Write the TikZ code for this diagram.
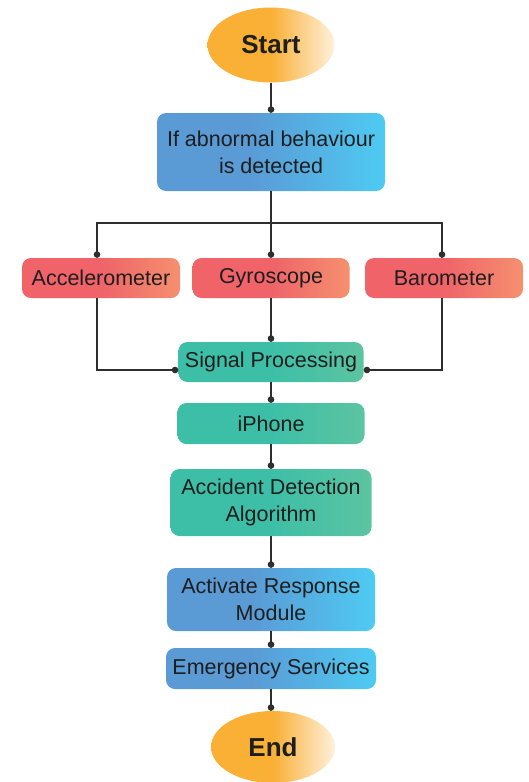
\documentclass[tikz,border=0pt]{standalone}
\usepackage{fontspec}
\setmainfont{Liberation Sans}
\usetikzlibrary{arrows.meta,shapes.geometric}
\definecolor{orA}{HTML}{F9B035}
\definecolor{orB}{HTML}{FFF1DC}
\definecolor{blA}{HTML}{5A9AD5}
\definecolor{blB}{HTML}{4ECBF2}
\definecolor{rdA}{HTML}{EF6369}
\definecolor{rdB}{HTML}{F5906F}
\definecolor{grA}{HTML}{3DBFA7}
\definecolor{grB}{HTML}{5CC4A1}
\definecolor{ink}{HTML}{1E1E1E}
\definecolor{wire}{HTML}{2E2E2E}
\pgfdeclarehorizontalshading{orshade}{100bp}{color(0bp)=(orA); color(25bp)=(orA); color(50bp)=(orA); color(75bp)=(orB); color(100bp)=(orB)}
\pgfdeclarehorizontalshading{blshade}{100bp}{color(0bp)=(blA); color(25bp)=(blA); color(45bp)=(blA); color(75bp)=(blB); color(100bp)=(blB)}
\pgfdeclarehorizontalshading{rdshade}{100bp}{color(0bp)=(rdA); color(25bp)=(rdA); color(50bp)=(rdA); color(75bp)=(rdB); color(100bp)=(rdB)}
\pgfdeclarehorizontalshading{grshade}{100bp}{color(0bp)=(grA); color(25bp)=(grA); color(50bp)=(grA); color(75bp)=(grB); color(100bp)=(grB)}
\begin{document}
\begin{tikzpicture}[x=1pt,y=-1pt,
  boxtext/.style={text=ink,font=\fontsize{21.5}{27}\selectfont,align=center,inner sep=0pt},
  terminal/.style={ellipse,shading=orshade,boxtext,font=\fontsize{26}{30}\selectfont\bfseries},
  bluebox/.style={rounded corners=9pt,shading=blshade,boxtext},
  redbox/.style={rounded corners=9pt,shading=rdshade,boxtext},
  greenbox/.style={rounded corners=9pt,shading=grshade,boxtext},
  conn/.style={draw=wire,line width=1.4pt,-{Circle[length=6.5pt]}},
  plain/.style={draw=wire,line width=1.4pt}]
\useasboundingbox (0,0) rectangle (528,782);
\node[terminal,minimum width=127pt,minimum height=75pt] (start) at (271,45) {Start};
\node[bluebox,minimum width=228pt,minimum height=78pt] (b1) at (271,152) {If abnormal behaviour\\is detected};
\node[redbox,minimum width=158pt,minimum height=40pt] (acc) at (101,278) {Accelerometer};
\node[redbox,minimum width=157pt,minimum height=40pt] (gyr) at (271,278) {Gyroscope};
\node[redbox,minimum width=158pt,minimum height=40pt] (bar) at (444,278) {Barometer};
\node[greenbox,minimum width=185pt,minimum height=40pt] (sp) at (271,362) {Signal Processing};
\node[greenbox,minimum width=187pt,minimum height=41pt] (iph) at (271,423.5) {iPhone};
\node[greenbox,minimum width=201pt,minimum height=67pt] (ada) at (271,502.5) {Accident Detection\\Algorithm};
\node[bluebox,minimum width=208pt,minimum height=63pt] (arm) at (271,599.5) {Activate Response\\Module};
\node[bluebox,minimum width=210pt,minimum height=41pt] (es) at (271,668.5) {Emergency Services};
\node[terminal,minimum width=124pt,minimum height=72pt] (end) at (273,747) {End};
\coordinate (j) at (271,223);
\draw[conn] (start.south) -- (b1.north);
\draw[plain] (b1.south) -- (j);
\draw[conn] (j) -| ([xshift=-4pt]acc.north);
\draw[conn] (j) -- (gyr.north);
\draw[conn] (j) -| ([xshift=-2pt]bar.north);
\draw[conn] ([xshift=-4pt]acc.south) |- ([yshift=-8pt]sp.west);
\draw[conn] (gyr.south) -- (sp.north);
\draw[conn] ([xshift=-2pt]bar.south) |- ([yshift=-8pt]sp.east);
\draw[conn] (sp.south) -- (iph.north);
\draw[conn] (iph.south) -- (ada.north);
\draw[conn] (ada.south) -- (arm.north);
\draw[conn] (arm.south) -- (es.north);
\draw[conn] (es.south) -- (es.south |- end.north);
\end{tikzpicture}
\end{document}
